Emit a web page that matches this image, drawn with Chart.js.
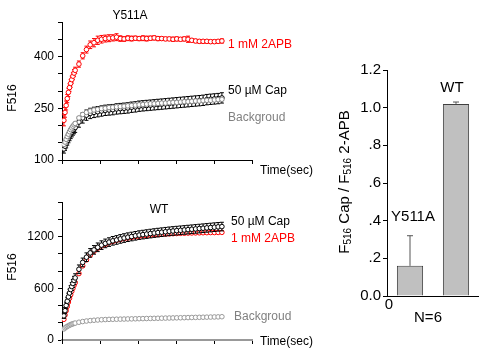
<!DOCTYPE html>
<html>
<head>
<meta charset="utf-8">
<script src="https://cdn.jsdelivr.net/npm/chart.js@4.4.0/dist/chart.umd.min.js"></script>
<style>
body { margin: 0; background: #fff; }
#wrap { position: relative; width: 479px; height: 358px; }
canvas { position: absolute; }
</style>
</head>
<body>
<div id="wrap">
  <canvas id="y511a" width="320" height="180" style="left:0;top:0"></canvas>
  <canvas id="wt" width="320" height="178" style="left:0;top:180px"></canvas>
  <canvas id="ratio" width="159" height="358" style="left:320px;top:0"></canvas>
</div>
<script>
// sample times (sec)
const times = [0, 30, 60, 90, 120, 150, 180, 210, 240, 270, 300, 400, 500, 600, 700, 800, 900, 1000,
  1100, 1200, 1300, 1400, 1500, 1600, 1700, 1800, 1900, 2000, 2100, 2200, 2300, 2400, 2500, 2600,
  2700, 2800, 2900, 3000, 3100, 3200, 3300, 3400, 3500, 3600, 3700, 3800, 3900, 4000, 4100, 4200];

// Y511A panel
const y511aApb = [215, 238, 258, 278, 296, 310, 322, 333, 343, 352, 360, 378, 402, 420, 434, 440, 447, 450,
  452, 453, 454, 456, 452, 451, 453, 452, 453, 452, 453, 452, 453, 454, 452, 452, 451, 451, 450, 451,
  450, 451, 450, 447, 445, 444, 444, 444, 443, 443, 444, 445];
const y511aApbErr = [16, 14, 13, 12, 12, 11, 11, 10, 10, 10, 9, 9, 9, 10, 11, 12, 12, 11, 10, 10, 9, 10, 8,
  7, 7, 7, 6, 6, 7, 7, 6, 6, 6, 5, 5, 5, 6, 6, 5, 6, 9, 5, 5, 5, 5, 5, 5, 5, 5, 6];
const y511aCap = [132, 140, 148, 156, 163, 170, 176, 181, 186, 190, 194, 210, 222, 230, 235, 238, 240, 242,
  244, 245, 246, 248, 249, 250, 251, 253, 254, 256, 257, 258, 259, 260, 261, 262, 263, 264, 265, 266,
  267, 268, 269, 270, 271, 272, 273, 275, 276, 277, 278, 280];
const y511aCapErr = [12, 12, 13, 13, 13, 14, 14, 14, 14, 14, 14, 15, 15, 15, 15, 15, 15, 15, 15, 15, 15,
  15, 15, 15, 15, 15, 15, 15, 15, 15, 15, 15, 15, 15, 15, 15, 15, 15, 15, 15, 15, 15, 15, 15, 15, 15,
  15, 15, 15, 15];
const y511aBg = [145, 152, 160, 168, 175, 182, 188, 193, 198, 202, 206, 222, 232, 238, 242, 245, 247, 249,
  250, 252, 253, 254, 255, 256, 257, 258, 259, 260, 261, 262, 263, 263, 264, 265, 265, 266, 267, 267,
  268, 269, 269, 270, 271, 271, 272, 273, 273, 274, 275, 276];

// WT panel
const wtCap = [280, 340, 400, 450, 500, 545, 585, 620, 655, 690, 720, 820, 900, 960, 1010, 1045, 1075, 1100,
  1120, 1135, 1150, 1160, 1172, 1182, 1192, 1200, 1208, 1216, 1222, 1228, 1234, 1240, 1245, 1250,
  1255, 1260, 1264, 1268, 1272, 1276, 1280, 1284, 1288, 1292, 1296, 1300, 1304, 1308, 1312, 1315];
const wtCapErr = [30, 35, 38, 40, 42, 44, 45, 46, 47, 48, 48, 50, 50, 50, 50, 50, 50, 50, 50, 50, 50, 50,
  50, 50, 50, 50, 50, 50, 50, 50, 50, 50, 50, 50, 50, 50, 50, 50, 50, 50, 50, 50, 50, 50, 50, 50, 50,
  50, 50, 50];
const wtApb = [240, 290, 340, 390, 440, 485, 525, 565, 600, 635, 665, 770, 860, 930, 985, 1030, 1065, 1090,
  1110, 1128, 1142, 1155, 1165, 1175, 1183, 1190, 1197, 1203, 1208, 1212, 1216, 1220, 1223, 1226,
  1229, 1231, 1233, 1235, 1237, 1238, 1240, 1241, 1242, 1243, 1244, 1245, 1246, 1246, 1247, 1248];
const wtApbErr = [12, 12, 12, 12, 12, 12, 12, 12, 12, 12, 12, 12, 12, 12, 12, 12, 12, 12, 12, 12, 12, 12,
  12, 12, 12, 12, 12, 12, 12, 12, 12, 12, 12, 12, 12, 12, 12, 12, 12, 12, 12, 12, 12, 12, 12, 12, 12,
  12, 12, 12];
const wtBg = [128, 140, 150, 158, 165, 172, 178, 183, 188, 192, 196, 206, 214, 220, 225, 229, 232, 235,
  237, 239, 240, 241, 242, 243, 244, 245, 246, 247, 248, 249, 250, 251, 252, 253, 254, 255, 256, 257,
  258, 259, 260, 261, 262, 263, 264, 265, 266, 267, 268, 270];

// ratio bar chart
const groups = ['Y511A', 'WT'];
const ratioMean = [0.16, 1.02];
const ratioErr = [0.16, 0.01];

Chart.defaults.font.family = '"Liberation Sans", Arial, sans-serif';
Chart.defaults.font.size = 12;
Chart.defaults.color = '#000';

const pts = vals => times.map((t, i) => ({ x: t, y: vals[i] }));

// error bars drawn under each dataset's own markers
const errorBars = {
  id: 'errorBars',
  beforeDatasetDraw(chart, args) {
    const ds = chart.data.datasets[args.index];
    if (!ds.errors || ds.errOnTop) return;
    drawErr(chart, ds, args.meta);
  },
  afterDatasetDraw(chart, args) {
    const ds = chart.data.datasets[args.index];
    if (!ds.errors || !ds.errOnTop) return;
    drawErr(chart, ds, args.meta);
  }
};

function drawErr(chart, ds, meta) {
  const ctx = chart.ctx;
  const ys = chart.scales.y;
  ctx.save();
  ctx.strokeStyle = ds.errColor || ds.borderColor;
  ctx.lineWidth = 1;
  meta.data.forEach((el, i) => {
    const raw = ds.data[i];
    const v = typeof raw === 'object' ? raw.y : raw;
    const e = ds.errors[i];
    const top = ys.getPixelForValue(v + e);
    const bot = ds.upOnly ? ys.getPixelForValue(v) : ys.getPixelForValue(v - e);
    const c = ds.cap || 2;
    ctx.beginPath();
    ctx.moveTo(el.x, top); ctx.lineTo(el.x, bot);
    ctx.moveTo(el.x - c, top); ctx.lineTo(el.x + c, top);
    if (!ds.upOnly) { ctx.moveTo(el.x - c, bot); ctx.lineTo(el.x + c, bot); }
    ctx.stroke();
  });
  ctx.restore();
}

// free text (titles, series labels, axis titles)
const texts = {
  id: 'texts',
  afterDraw(chart, args, opts) {
    const ctx = chart.ctx;
    (opts.items || []).forEach(it => {
      ctx.save();
      ctx.translate(it.x, it.y);
      if (it.rot) ctx.rotate(it.rot);
      ctx.fillStyle = it.color || '#000';
      ctx.textBaseline = 'middle';
      const parts = it.parts || [{ t: it.t, size: it.size || 12 }];
      let w = 0;
      parts.forEach(p => {
        ctx.font = (p.size || 12) + 'px "Liberation Sans", Arial, sans-serif';
        p.w = ctx.measureText(p.t).width;
        w += p.w;
      });
      let x = it.align === 'left' ? 0 : -w / 2;
      parts.forEach(p => {
        ctx.font = (p.size || 12) + 'px "Liberation Sans", Arial, sans-serif';
        ctx.textAlign = 'left';
        ctx.fillText(p.t, x, p.dy || 0);
        x += p.w;
      });
      ctx.restore();
    });
  }
};

function timePanel(id, yMin, yMax, yStep, yLabels, datasets, items, xAxisColor, xAxisWidth, xHeight) {
  return new Chart(id, {
    type: 'scatter',
    data: { datasets },
    options: {
      responsive: false,
      animation: false,
      layout: { padding: { top: 22, right: 68, left: 0, bottom: 0 } },
      plugins: { legend: { display: false }, tooltip: { enabled: false }, texts: { items } },
      scales: {
        x: {
          min: -50, max: 5000,
          ticks: {
            stepSize: 1000, includeBounds: false, autoSkip: false, maxRotation: 0, padding: 1,
            callback: v => (v === 0 || v === 2000 || v === 4000) ? String(v) : ''
          },
          grid: { drawOnChartArea: false, tickLength: 4, color: '#000' },
          border: { color: xAxisColor, width: xAxisWidth },
          afterFit: s => { s.height = xHeight; }
        },
        y: {
          min: yMin, max: yMax,
          ticks: {
            stepSize: yStep, autoSkip: false, padding: 4,
            callback: v => yLabels.includes(v) ? String(v) : ''
          },
          grid: { drawOnChartArea: false, tickLength: 4, color: '#000' },
          border: { color: '#000' },
          afterFit: s => { s.width = 62; }
        }
      }
    },
    plugins: [errorBars, texts]
  });
}

const marker = (color, fill) => ({
  showLine: false, pointRadius: 2.3, pointBorderWidth: 1,
  borderColor: color, pointBorderColor: color, pointBackgroundColor: fill, backgroundColor: fill
});

timePanel('y511a', 100, 500, 50, [100, 250, 400], [
  Object.assign({ data: pts(y511aBg), errors: y511aBg.map(() => 4), errColor: '#888' }, marker('#888', '#fff')),
  Object.assign({ data: pts(y511aCap), errors: y511aCapErr }, marker('#000', '#fff')),
  Object.assign({ data: pts(y511aApb), errors: y511aApbErr }, marker('#ff0000', '#fff'))
], [
  { t: 'Y511A', x: 130, y: 16 },
  { t: 'F516', x: 13, y: 98, rot: -Math.PI / 2 },
  { t: 'Time(sec)', x: 260, y: 171, align: 'left' },
  { t: '1 mM 2APB', x: 228, y: 45, align: 'left', color: '#ff0000' },
  { t: '50 \u00b5M Cap', x: 228, y: 91, align: 'left' },
  { t: 'Backgroud', x: 228, y: 118, align: 'left', color: '#808080' }
], '#000', 1, 20);

timePanel('wt', 0, 1600, 200, [0, 600, 1200], [
  Object.assign({ data: pts(wtBg), errors: wtBg.map(() => 4), errColor: '#999' }, marker('#999', '#fff')),
  Object.assign({ data: pts(wtCap), errors: wtCapErr }, marker('#000', '#fff')),
  Object.assign({ data: pts(wtApb), errors: wtApbErr }, marker('#ff0000', '#fff'))
], [
  { t: 'WT', x: 159, y: 30 },
  { t: 'F516', x: 13, y: 87, rot: -Math.PI / 2 },
  { t: 'Time(sec)', x: 260, y: 162, align: 'left' },
  { t: '50 \u00b5M Cap', x: 231, y: 42, align: 'left' },
  { t: '1 mM 2APB', x: 231, y: 59, align: 'left', color: '#ff0000' },
  { t: 'Backgroud', x: 234, y: 137, align: 'left', color: '#808080' }
], '#999', 2, 18);

new Chart('ratio', {
  type: 'bar',
  data: {
    labels: groups,
    datasets: [{
      data: ratioMean, errors: ratioErr, errOnTop: true, upOnly: true, cap: 3, errColor: '#555',
      backgroundColor: '#c0c0c0', borderColor: '#404040', borderWidth: 1,
      barPercentage: 0.57, categoryPercentage: 1
    }]
  },
  options: {
    responsive: false,
    animation: false,
    layout: { padding: { top: 70, right: 0, left: 0, bottom: 0 } },
    plugins: {
      legend: { display: false }, tooltip: { enabled: false },
      texts: {
        items: [
          { t: 'Y511A', x: 93, y: 217, size: 15 },
          { t: 'WT', x: 132, y: 88, size: 15 },
          { t: '0', x: 69, y: 305, size: 15 },
          { t: 'N=6', x: 108, y: 318, size: 15 },
          {
            x: 25, y: 182, rot: -Math.PI / 2, parts: [
              { t: 'F', size: 15 }, { t: '516', size: 10, dy: 3 }, { t: ' Cap / F', size: 15 },
              { t: '516', size: 10, dy: 3 }, { t: ' 2-APB', size: 15 }
            ]
          }
        ]
      }
    },
    scales: {
      x: {
        ticks: { display: false },
        grid: { drawOnChartArea: false, drawTicks: false },
        border: { color: '#000' },
        afterFit: s => { s.height = 62; }
      },
      y: {
        min: 0, max: 1.2,
        ticks: {
          stepSize: 0.2, autoSkip: false, padding: 2, font: { size: 15 },
          callback: v => {
            const s = (Math.round(v * 10) / 10).toFixed(1);
            return s.startsWith('0.') && s !== '0.0' ? s.slice(1) : s;
          }
        },
        grid: { drawOnChartArea: false, tickLength: 4, color: '#000' },
        border: { color: '#000' },
        afterFit: s => { s.width = 67; }
      }
    }
  },
  plugins: [errorBars, texts]
});
</script>
</body>
</html>
